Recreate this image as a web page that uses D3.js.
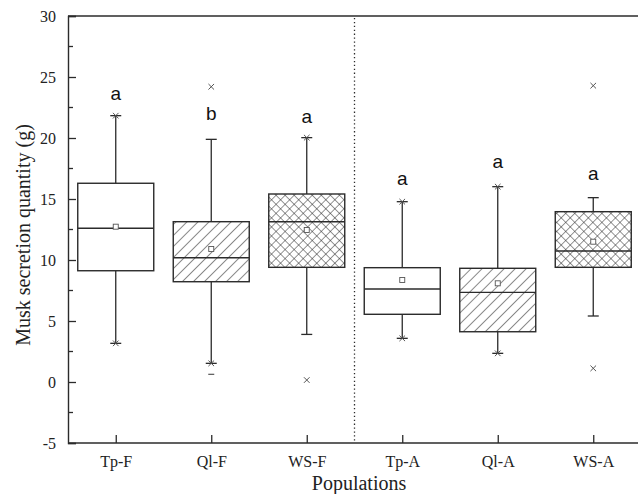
<!DOCTYPE html>
<html><head><meta charset="utf-8">
<script src="https://cdn.jsdelivr.net/npm/d3@7"></script>
<style>body{margin:0;background:#fff}svg{display:block}</style>
</head><body>
<svg id="c" width="638" height="494"></svg>
<script>
const categories = ["Tp-F","Ql-F","WS-F","Tp-A","Ql-A","WS-A"];
const patterns   = ["none","diag","cross","none","diag","cross"];
const q1         = [9.12, 8.22, 9.40, 5.55, 4.12, 9.40];
const median     = [12.6, 10.19, 13.14, 7.62, 7.35, 10.74];
const q3         = [16.29, 13.14, 15.41, 9.37, 9.32, 13.96];
const means      = [12.73, 10.9, 12.46, 8.36, 8.09, 11.5];
const whiskLow   = [3.17, 1.53, 3.9, 3.58, 2.35, 5.41];
const whiskHigh  = [21.83, 19.89, 20.03, 14.78, 16.01, 15.11];
const crossPts   = [[21.83,3.17],[24.2,1.53],[20.03,0.16],[14.78,3.58],[16.01,2.35],[24.29,1.12]];
const dashPts    = [[],[0.63],[],[],[],[]];
const letters    = ["a","b","a","a","a","a"];
const letterY    = [23.6, 22.0, 21.7, 16.6, 18.0, 17.05];
const yTicks     = [-5,0,5,10,15,20,25,30];

const svg = d3.select("#c");
const L = 68, R = 641, T = 16, B = 443;
const x = d3.scaleLinear().domain([0.5, 6.5]).range([L, R]);
const y = d3.scaleLinear().domain([-5, 30]).range([B, T]);
const ink = "#2b2b2b";
const serif = "Liberation Serif, Times New Roman, serif";

const defs = svg.append("defs");
const pd = defs.append("pattern").attr("id","diag").attr("patternUnits","userSpaceOnUse")
  .attr("width",7.8).attr("height",10).attr("patternTransform","rotate(45)");
pd.append("line").attr("x1",0).attr("y1",0).attr("x2",0).attr("y2",10).attr("stroke",ink).attr("stroke-width",1.1);
const pc = defs.append("pattern").attr("id","cross").attr("patternUnits","userSpaceOnUse")
  .attr("width",6.4).attr("height",6.4).attr("patternTransform","rotate(45)");
pc.append("line").attr("x1",0).attr("y1",0).attr("x2",0).attr("y2",6.4).attr("stroke",ink).attr("stroke-width",1);
pc.append("line").attr("x1",0).attr("y1",0).attr("x2",6.4).attr("y2",0).attr("stroke",ink).attr("stroke-width",1);

// frame
svg.append("line").attr("x1",L).attr("x2",R).attr("y1",T).attr("y2",T).attr("stroke",ink).attr("stroke-width",1.4);
// divider
svg.append("line").attr("x1",x(3.5)).attr("x2",x(3.5)).attr("y1",T+2).attr("y2",B)
  .attr("stroke",ink).attr("stroke-width",1.3).attr("stroke-dasharray","1.3,2.6");

// y axis
const yAxis = svg.append("g").attr("transform",`translate(${L},0)`)
  .call(d3.axisLeft(y).tickValues(yTicks).tickSize(-8).tickPadding(12).tickFormat(d=>String(d)));
yAxis.select(".domain").attr("stroke",ink).attr("stroke-width",1.4);
yAxis.selectAll(".tick line").attr("stroke",ink).attr("stroke-width",1.3);
yAxis.selectAll(".tick text").attr("font-family",serif).attr("font-size",16).attr("fill","#222");
const minor = d3.range(-2.5, 30, 5);
svg.append("g").selectAll("line").data(minor).join("line")
  .attr("x1",L).attr("x2",L+5).attr("y1",d=>y(d)).attr("y2",d=>y(d)).attr("stroke",ink).attr("stroke-width",1.3);

// x axis
const xAxis = svg.append("g").attr("transform",`translate(0,${B})`)
  .call(d3.axisBottom(x).tickValues(d3.range(1,7)).tickSize(-8).tickPadding(13).tickFormat(i=>categories[i-1]));
xAxis.select(".domain").attr("stroke",ink).attr("stroke-width",1.4).attr("d",`M${L},0H${R}`);
xAxis.selectAll(".tick line").attr("stroke",ink).attr("stroke-width",1.3);
xAxis.selectAll(".tick text").attr("font-family",serif).attr("font-size",16).attr("fill","#222");

// axis titles
svg.append("text").attr("x",359).attr("y",490).attr("text-anchor","middle")
  .attr("font-family",serif).attr("font-size",20).attr("fill","#222").text("Populations");
svg.append("text").attr("transform","translate(30,235) rotate(-90)").attr("text-anchor","middle")
  .attr("font-family",serif).attr("font-size",20).attr("fill","#222").text("Musk secretion quantity (g)");

// boxes
const bw = 76, cw = 11;
const g = svg.append("g");
categories.forEach((c,i)=>{
  const cx = x(i+1);
  g.append("line").attr("x1",cx).attr("x2",cx).attr("y1",y(whiskHigh[i])).attr("y2",y(q3[i])).attr("stroke",ink).attr("stroke-width",1.3);
  g.append("line").attr("x1",cx).attr("x2",cx).attr("y1",y(q1[i])).attr("y2",y(whiskLow[i])).attr("stroke",ink).attr("stroke-width",1.3);
  [whiskHigh[i], whiskLow[i]].forEach(v=>{
    g.append("line").attr("x1",cx-cw/2).attr("x2",cx+cw/2).attr("y1",y(v)).attr("y2",y(v)).attr("stroke",ink).attr("stroke-width",1.3);
  });
  g.append("rect").attr("x",cx-bw/2).attr("width",bw).attr("y",y(q3[i])).attr("height",y(q1[i])-y(q3[i]))
    .attr("fill", patterns[i]==="none" ? "#fff" : `url(#${patterns[i]})`).attr("stroke",ink).attr("stroke-width",1.4);
  g.append("line").attr("x1",cx-bw/2).attr("x2",cx+bw/2).attr("y1",y(median[i])).attr("y2",y(median[i])).attr("stroke",ink).attr("stroke-width",1.4);
  g.append("rect").attr("x",cx-2.5).attr("y",y(means[i])-2.5).attr("width",5).attr("height",5)
    .attr("fill","#fff").attr("stroke","#555").attr("stroke-width",0.9);
  crossPts[i].forEach(v=>{
    const py = y(v), s = 2.8;
    g.append("path").attr("d",`M${cx-s},${py-s}L${cx+s},${py+s}M${cx-s},${py+s}L${cx+s},${py-s}`)
      .attr("stroke","#555").attr("stroke-width",1);
  });
  dashPts[i].forEach(v=>{
    g.append("line").attr("x1",cx-3).attr("x2",cx+3).attr("y1",y(v)).attr("y2",y(v)).attr("stroke","#555").attr("stroke-width",1.2);
  });
  g.append("text").attr("x",cx).attr("y",y(letterY[i])+6).attr("text-anchor","middle")
    .attr("font-family","Liberation Sans, Arial, sans-serif").attr("font-size",19).attr("fill","#111").text(letters[i]);
});
</script>
</body></html>
